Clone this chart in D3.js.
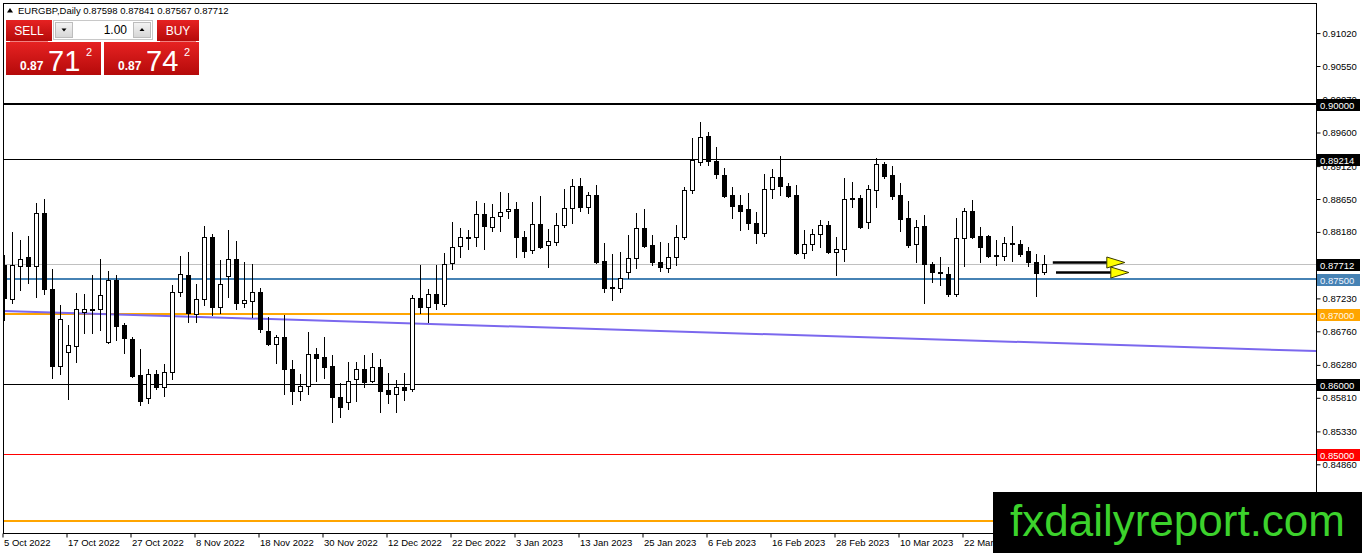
<!DOCTYPE html>
<html lang="en">
<head>
<meta charset="UTF-8">
<title>EURGBP Daily</title>
<script src="https://cdn.jsdelivr.net/npm/d3@7"></script>
<style>
  body { margin: 0; background: #fff; }
  svg { display: block; font-family: "Liberation Sans", Arial, sans-serif; }
</style>
</head>
<body>
<svg width="1362" height="553" id="mainsvg"></svg>
<script>
// ---- data (daily candles, 5 Oct 2022 .. 5 Apr 2023) ----
const opens = [0.87700,0.87214,0.87686,0.87814,0.87686,0.88443,0.87357,0.86257,0.86457,0.86543,
  0.87029,0.87057,0.87071,0.86600,0.87486,0.86843,0.86643,0.86129,0.85800,0.86143,
  0.85957,0.86171,0.87314,0.87557,0.87000,0.87214,0.88100,0.87100,0.87543,0.87786,
  0.87157,0.87186,0.87314,0.86757,0.86571,0.86671,0.86214,0.85900,0.85971,0.86429,
  0.86386,0.86257,0.85814,0.85743,0.86071,0.86214,0.86043,0.86243,0.85914,0.85857,
  0.85957,0.85929,0.87229,0.87100,0.87286,0.87143,0.87729,0.87971,0.88086,0.88100,
  0.88429,0.88243,0.88400,0.88471,0.88500,0.88100,0.87914,0.88286,0.87986,0.88029,
  0.88271,0.88514,0.88829,0.88529,0.88700,0.87757,0.87386,0.87371,0.87600,0.87800,
  0.88229,0.87986,0.87743,0.87657,0.87814,0.88100,0.88771,0.89171,0.89543,0.89186,
  0.88986,0.88700,0.88557,0.88500,0.88300,0.88157,0.88786,0.88957,0.88829,0.88700,
  0.87871,0.88000,0.88143,0.88271,0.87886,0.87929,0.88643,0.88657,0.88314,0.88771,
  0.89143,0.88986,0.88700,0.88371,0.88000,0.88257,0.87714,0.87600,0.87571,0.87286,
  0.88086,0.88471,0.88114,0.88114,0.87843,0.87829,0.88000,0.88000,0.87900,0.87743,
  0.87598];
const highs = [0.87843,0.88171,0.88057,0.88114,0.88586,0.88643,0.87643,0.87129,0.86843,0.87300,
  0.87286,0.87557,0.87786,0.87614,0.87557,0.86871,0.86671,0.86500,0.86214,0.86200,
  0.86286,0.87414,0.87829,0.87886,0.87429,0.88257,0.88143,0.87771,0.88200,0.88043,
  0.87743,0.87714,0.87371,0.86957,0.86700,0.86986,0.86343,0.86143,0.86743,0.86514,
  0.86671,0.86414,0.86014,0.86314,0.86314,0.86414,0.86443,0.86357,0.86157,0.86057,
  0.86157,0.87271,0.87700,0.87357,0.87700,0.87871,0.88314,0.88229,0.88200,0.88614,
  0.88586,0.88571,0.88743,0.88729,0.88600,0.88186,0.88600,0.88686,0.88214,0.88443,
  0.88786,0.88929,0.88943,0.88743,0.88843,0.88014,0.87857,0.87886,0.88129,0.88443,
  0.88500,0.88129,0.88029,0.88014,0.88271,0.88814,0.89514,0.89743,0.89600,0.89386,
  0.89086,0.88814,0.88700,0.88729,0.88457,0.89000,0.89071,0.89257,0.88871,0.88843,
  0.88200,0.88214,0.88343,0.88329,0.88100,0.88943,0.88886,0.88700,0.88843,0.89229,
  0.89171,0.89114,0.88871,0.88614,0.88343,0.88414,0.87743,0.87814,0.87671,0.88371,
  0.88514,0.88629,0.88243,0.88129,0.88057,0.88100,0.88257,0.88057,0.87957,0.87857,
  0.87841];
const lows = [0.86914,0.87157,0.87343,0.87443,0.87243,0.87286,0.86086,0.86143,0.85786,0.86314,
  0.86729,0.86729,0.86771,0.86586,0.86629,0.86443,0.86100,0.85700,0.85729,0.85929,
  0.85829,0.86071,0.87257,0.86886,0.86886,0.87129,0.86986,0.87014,0.87243,0.87071,
  0.87100,0.86957,0.86743,0.86557,0.86300,0.85857,0.85714,0.85771,0.85857,0.86043,
  0.86086,0.85457,0.85529,0.85643,0.85757,0.85957,0.86029,0.85600,0.85729,0.85600,
  0.85771,0.85900,0.87014,0.86886,0.87071,0.87114,0.87643,0.87814,0.87929,0.87971,
  0.87929,0.88186,0.88186,0.88371,0.87814,0.87814,0.87871,0.87943,0.87671,0.87986,
  0.88243,0.88300,0.88471,0.88443,0.87729,0.87314,0.87200,0.87314,0.87514,0.87657,
  0.87957,0.87700,0.87614,0.87600,0.87700,0.88071,0.88729,0.89129,0.89129,0.88943,
  0.88671,0.88371,0.88200,0.88214,0.88014,0.88114,0.88657,0.88700,0.88671,0.87857,
  0.87800,0.87914,0.87957,0.87871,0.87557,0.87757,0.88529,0.88229,0.88229,0.88529,
  0.88943,0.88643,0.88186,0.87957,0.87743,0.87157,0.87457,0.87414,0.87257,0.87257,
  0.87686,0.88086,0.87743,0.87814,0.87700,0.87771,0.87757,0.87829,0.87686,0.87257,
  0.87567];
const closes = [0.87229,0.87700,0.87786,0.87686,0.88443,0.87357,0.86257,0.86929,0.86557,0.87071,
  0.87071,0.87071,0.87271,0.87486,0.86829,0.86657,0.86114,0.85757,0.86143,0.85957,
  0.86171,0.87314,0.87571,0.87014,0.87214,0.88100,0.87100,0.87429,0.87786,0.87157,
  0.87200,0.87314,0.86786,0.86571,0.86671,0.86214,0.85900,0.85971,0.86429,0.86371,
  0.86243,0.85814,0.85671,0.86043,0.86214,0.86029,0.86243,0.85900,0.85857,0.85957,
  0.85914,0.87229,0.87100,0.87286,0.87157,0.87714,0.87957,0.88100,0.88100,0.88429,
  0.88257,0.88386,0.88457,0.88500,0.88100,0.87900,0.88286,0.87957,0.88043,0.88271,
  0.88514,0.88829,0.88529,0.88700,0.87743,0.87371,0.87371,0.87514,0.87800,0.88229,
  0.87971,0.87743,0.87671,0.87814,0.88100,0.88771,0.89200,0.89529,0.89186,0.89000,
  0.88686,0.88543,0.88471,0.88300,0.88157,0.88786,0.88957,0.88829,0.88686,0.87871,
  0.88000,0.88143,0.88271,0.87886,0.87929,0.88643,0.88657,0.88243,0.88786,0.89143,
  0.88971,0.88686,0.88357,0.87986,0.88243,0.87714,0.87600,0.87586,0.87286,0.88086,
  0.88471,0.88100,0.87957,0.87829,0.87829,0.88014,0.88014,0.87857,0.87743,0.87586,
  0.87712];

const dateTickIdx = [0, 8, 16, 24, 32, 40, 48, 56, 64, 72, 80, 88, 96, 104, 112, 120];
const dateLabels = ['5 Oct 2022','17 Oct 2022','27 Oct 2022','8 Nov 2022','18 Nov 2022','30 Nov 2022',
  '12 Dec 2022','22 Dec 2022','3 Jan 2023','13 Jan 2023','25 Jan 2023','6 Feb 2023',
  '16 Feb 2023','28 Feb 2023','10 Mar 2023','22 Mar 2023'];
const priceTicks = [0.91020,0.90550,0.90070,0.89600,0.89120,0.88650,0.88180,0.87710,
  0.87230,0.86760,0.86280,0.85810,0.85330,0.84860];

// horizontal levels and the marked prices on the scale
const levelPrices = [0.90000, 0.89214, 0.87712, 0.87500, 0.87000, 0.86000, 0.85000, 0.84040];
const levelNames  = ['black2', 'black', 'bid', 'blue', 'orange', 'black', 'red', 'orange'];
const boxPrices   = [0.90000, 0.89214, 0.87712, 0.87500, 0.87000, 0.86000, 0.85000];
const boxNames    = ['black', 'black', 'black', 'blue', 'orange', 'black', 'red'];

// trend line anchors (bar index, price) and the two arrows
const trendIdx = [0, 164];
const trendPrice = [0.87043, 0.86471];
const arrowFrom = [131.1, 131.5];
const arrowTo = [140.1, 140.6];
const arrowPrice = [0.87743, 0.87600];

const header = { symbol: 'EURGBP,Daily', ohlc: [0.87598, 0.87841, 0.87567, 0.87712] };
const quote = { lot: '1.00', sellBig: '71', buyBig: '74', pre: '0.87', frac: '2' };

// ---- styles ----
const lineStyle = {
  black2: { c: '#000', w: 2 }, black: { c: '#000', w: 1 }, bid: { c: '#c0c0c0', w: 1 },
  blue: { c: '#4682b4', w: 2 }, orange: { c: '#ffa500', w: 2 }, red: { c: '#ff0000', w: 1 }
};
const boxStyle = {
  black: { bg: '#000', fg: '#fff' }, blue: { bg: '#4682b4', fg: '#f0f4ff' },
  orange: { bg: '#ffa500', fg: '#fff8e8' }, red: { bg: '#ff0000', fg: '#fff' }
};

const svg = d3.select('svg');
const width = +svg.attr('width');
const height = +svg.attr('height');
const frame = { left: 3, top: 3, right: 1316, bottom: 533 };

svg.append('rect').attr('width', width).attr('height', height).attr('fill', '#fff');

const xScale = d3.scaleLinear().domain([0, 130]).range([4, 1044]);
const yScale = d3.scaleLinear().domain([0.86, 0.90]).range([384, 104]);
const fmt = d3.format('.5f');

const defs = svg.append('defs');
defs.append('clipPath').attr('id', 'plotclip').append('rect')
  .attr('x', frame.left).attr('y', frame.top)
  .attr('width', frame.right - frame.left).attr('height', frame.bottom - frame.top);
const grad = defs.append('linearGradient').attr('id', 'redgrad').attr('x1', 0).attr('y1', 0).attr('x2', 0).attr('y2', 1);
grad.append('stop').attr('offset', '0%').attr('stop-color', '#e62222');
grad.append('stop').attr('offset', '100%').attr('stop-color', '#b50a0a');
const grey = defs.append('linearGradient').attr('id', 'greygrad').attr('x1', 0).attr('y1', 0).attr('x2', 0).attr('y2', 1);
grey.append('stop').attr('offset', '0%').attr('stop-color', '#f4f4f4');
grey.append('stop').attr('offset', '100%').attr('stop-color', '#d6d6d6');

const plot = svg.append('g').attr('clip-path', 'url(#plotclip)');

// levels
const levels = levelPrices.map((p, i) => ({ p, s: lineStyle[levelNames[i]] }));
plot.selectAll('.level').data(levels).join('line')
  .attr('class', 'level')
  .attr('x1', frame.left).attr('x2', frame.right)
  .attr('y1', d => Math.round(yScale(d.p)) + (d.s.w === 1 ? 0.5 : 0))
  .attr('y2', d => Math.round(yScale(d.p)) + (d.s.w === 1 ? 0.5 : 0))
  .attr('stroke', d => d.s.c).attr('stroke-width', d => d.s.w);

// trend line, extended to the plot edges
const tSlope = (trendPrice[1] - trendPrice[0]) / (trendIdx[1] - trendIdx[0]);
const xLeft = xScale.invert(frame.left), xRight = xScale.invert(frame.right);
plot.append('line')
  .attr('x1', xScale(xLeft)).attr('y1', yScale(trendPrice[0] + tSlope * (xLeft - trendIdx[0])))
  .attr('x2', xScale(xRight)).attr('y2', yScale(trendPrice[0] + tSlope * (xRight - trendIdx[0])))
  .attr('stroke', '#7b68ee').attr('stroke-width', 2);

// candles
const candles = opens.map((o, i) => ({ i, o, h: highs[i], l: lows[i], c: closes[i] }));
const cg = plot.append('g');
const cx = d => Math.round(xScale(d.i)) + 0.5;
cg.selectAll('.wick').data(candles).join('line')
  .attr('class', 'wick')
  .attr('x1', cx).attr('x2', cx)
  .attr('y1', d => Math.round(yScale(d.h))).attr('y2', d => Math.round(yScale(d.l)) + 1)
  .attr('stroke', '#000').attr('stroke-width', 1);
cg.selectAll('.body').data(candles).join('rect')
  .attr('class', 'body')
  .attr('x', d => cx(d) - 2)
  .attr('y', d => Math.round(yScale(Math.max(d.o, d.c))) + 0.5)
  .attr('width', 4)
  .attr('height', d => Math.max(0, Math.round(yScale(Math.min(d.o, d.c))) - Math.round(yScale(Math.max(d.o, d.c)))))
  .attr('fill', d => d.c >= d.o ? '#fff' : '#000')
  .attr('stroke', '#000').attr('stroke-width', 1);

// arrows
const arrows = arrowFrom.map((f, i) => ({ f, t: arrowTo[i], p: arrowPrice[i] }));
const ag = plot.append('g');
arrows.forEach(a => {
  const y = Math.round(yScale(a.p)) + 0.5;
  const x0 = xScale(a.f), x1 = xScale(a.t);
  ag.append('line').attr('x1', x0).attr('x2', x1 - 16).attr('y1', y).attr('y2', y)
    .attr('stroke', '#000').attr('stroke-width', 2.5);
  ag.append('path')
    .attr('d', `M${x1 - 18},${y - 5.5}L${x1},${y}L${x1 - 18},${y + 5.5}Z`)
    .attr('fill', '#ffff00').attr('stroke', '#3a3a00').attr('stroke-width', 1);
});

// frame
svg.append('rect')
  .attr('x', frame.left + 0.5).attr('y', frame.top + 0.5)
  .attr('width', frame.right - frame.left).attr('height', frame.bottom - frame.top)
  .attr('fill', 'none').attr('stroke', '#000').attr('stroke-width', 1);

// right price axis
const yAxis = d3.axisRight(yScale).tickValues(priceTicks).tickSize(4).tickPadding(2).tickFormat(fmt);
const yAxisGroup = svg.append('g').attr('transform', `translate(${frame.right + 0.5},0.5)`).call(yAxis);
yAxisGroup.select('.domain').remove();
yAxisGroup.selectAll('text').attr('font-size', '9.5px').attr('font-family', '"Liberation Sans", Arial, sans-serif').attr('fill', '#000');
yAxisGroup.selectAll('line').attr('stroke', '#000');

// bottom date axis
const xAxis = d3.axisBottom(xScale).tickValues(dateTickIdx).tickSize(4).tickPadding(2)
  .tickFormat((d, i) => dateLabels[i]);
const xAxisGroup = svg.append('g').attr('transform', `translate(-1.5,${frame.bottom + 0.5})`).call(xAxis);
xAxisGroup.select('.domain').remove();
xAxisGroup.selectAll('text').attr('text-anchor', 'start').attr('x', 1)
  .attr('font-size', '9.5px').attr('font-family', '"Liberation Sans", Arial, sans-serif').attr('fill', '#000');
xAxisGroup.selectAll('line').attr('stroke', '#000');

// price boxes on the scale
const boxes = boxPrices.map((p, i) => ({ p, s: boxStyle[boxNames[i]] }));
const bg = svg.append('g');
bg.selectAll('rect').data(boxes).join('rect')
  .attr('x', frame.right + 1).attr('y', d => Math.round(yScale(d.p)) - 5)
  .attr('width', width - frame.right - 3).attr('height', 12)
  .attr('fill', d => d.s.bg);
bg.selectAll('text').data(boxes).join('text')
  .attr('x', frame.right + 4).attr('y', d => Math.round(yScale(d.p)) + 5)
  .attr('font-size', '9.5px').attr('fill', d => d.s.fg)
  .text(d => fmt(d.p));

// header line
svg.append('path').attr('d', 'M7,12.5L10,8L13,12.5Z').attr('fill', '#000');
svg.append('text').attr('x', 18).attr('y', 14).attr('font-size', '9.5px').attr('fill', '#000')
  .text(header.symbol + '  ' + header.ohlc.map(fmt).join(' '));

// one-click trading panel
const panel = svg.append('g');
panel.append('rect').attr('x', 6).attr('y', 20).attr('width', 46).attr('height', 21).attr('fill', 'url(#redgrad)');
panel.append('rect').attr('x', 157).attr('y', 20).attr('width', 42).attr('height', 21).attr('fill', 'url(#redgrad)');
panel.append('line').attr('x1', 10).attr('x2', 48).attr('y1', 41.5).attr('y2', 41.5).attr('stroke', '#f08080');
panel.append('line').attr('x1', 160).attr('x2', 196).attr('y1', 41.5).attr('y2', 41.5).attr('stroke', '#f08080');
panel.append('text').attr('x', 29).attr('y', 35).attr('text-anchor', 'middle').attr('font-size', '12px').attr('fill', '#fff').text('SELL');
panel.append('text').attr('x', 178).attr('y', 35).attr('text-anchor', 'middle').attr('font-size', '12px').attr('fill', '#fff').text('BUY');
// lot box
panel.append('rect').attr('x', 53.5).attr('y', 20.5).attr('width', 99).attr('height', 19).attr('fill', '#fff').attr('stroke', '#c8c8c8');
panel.append('rect').attr('x', 55.5).attr('y', 22.5).attr('width', 17).attr('height', 15).attr('fill', 'url(#greygrad)').attr('stroke', '#bdbdbd');
panel.append('rect').attr('x', 133.5).attr('y', 22.5).attr('width', 17).attr('height', 15).attr('fill', 'url(#greygrad)').attr('stroke', '#bdbdbd');
panel.append('path').attr('d', 'M61.5,28.5L66.5,28.5L64,31.5Z').attr('fill', '#000');
panel.append('path').attr('d', 'M139.5,31L144.5,31L142,28Z').attr('fill', '#000');
panel.append('text').attr('x', 127).attr('y', 34).attr('text-anchor', 'end').attr('font-size', '12px').attr('fill', '#000').text(quote.lot);
// price boxes
[{ x: 6, big: quote.sellBig }, { x: 104, big: quote.buyBig }].forEach(b => {
  panel.append('rect').attr('x', b.x).attr('y', 42).attr('width', 95).attr('height', 33).attr('fill', 'url(#redgrad)');
  panel.append('text').attr('x', b.x + 14).attr('y', 70).attr('font-size', '12px').attr('font-weight', 'bold').attr('fill', '#fff').text(quote.pre);
  panel.append('text').attr('x', b.x + 42).attr('y', 71).attr('font-size', '29px').attr('fill', '#fff').text(b.big);
  panel.append('text').attr('x', b.x + 80).attr('y', 56).attr('font-size', '11px').attr('fill', '#fff').text(quote.frac);
});

// watermark
svg.append('rect').attr('x', 993).attr('y', 492).attr('width', width - 993).attr('height', height - 492).attr('fill', '#000');
svg.append('text').attr('x', 1010).attr('y', 536).attr('font-size', '44px').attr('fill', '#3cd22c')
  .attr('textLength', 335).attr('lengthAdjust', 'spacingAndGlyphs').text('fxdailyreport.com');
</script>
</body>
</html>
